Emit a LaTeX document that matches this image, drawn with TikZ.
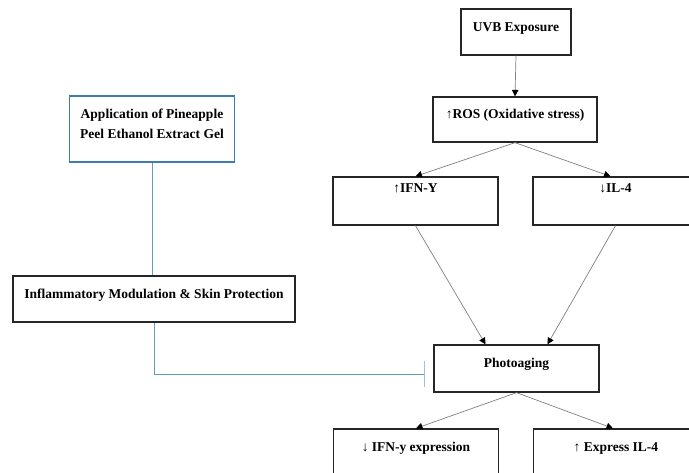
\documentclass[tikz,border=0pt]{standalone}
\usepackage{fontspec}
\setmainfont{Liberation Serif}
\usetikzlibrary{arrows.meta}
\definecolor{gelblue}{RGB}{61,127,168}
\definecolor{linkblue}{RGB}{100,154,188}
\begin{document}
\begin{tikzpicture}[x=1pt,y=-1pt,
    font=\fontsize{13.5}{20}\selectfont\bfseries,
    box/.style={draw=black!85,line width=1.3pt,minimum width=165pt,minimum height=46pt,
                inner sep=0pt,text height=9pt,text depth=10pt,align=center},
    tallbox/.style={box,text depth=26pt,minimum height=48pt},
    flow/.style={draw=black!50,line width=0.7pt,-{Triangle[length=6.5pt,width=6.5pt,color=black]}},
    inhibit/.style={draw=linkblue,line width=0.9pt,-{Bar[width=26pt,line width=1.4pt,color=linkblue!60]}}]
    \useasboundingbox (0,0) rectangle (689,473);
    \clip (0,0) rectangle (689,473);

    \node[box,minimum width=110pt] (uvb) at (516,32) {UVB Exposure};
    \node[box,minimum width=164pt,minimum height=45pt] (ros) at (515,119.5) {↑ROS (Oxidative stress)};
    \node[tallbox] (ifn) at (415.5,201) {↑IFN-Y};
    \node[tallbox] (il4) at (615.5,201) {↓IL-4};
    \node[box,minimum height=47pt] (photo) at (516.5,368.5) {Photoaging};
    \node[box] (ifnexp) at (416,452) {↓ IFN-y expression};
    \node[box] (expil4) at (616,452) {↑ Express IL-4};

    \node[box,draw=gelblue,minimum height=66pt,text height=29pt] (gel) at (152,129) {Application of Pineapple\\Peel Ethanol Extract Gel};
    \node[box,minimum width=282pt] (skin) at (154,299) {Inflammatory Modulation \& Skin Protection};

    \draw[flow] (uvb.south) -- (ros.north);
    \draw[flow] (ros.south) -- (ifn.north);
    \draw[flow] (ros.south) -- ([xshift=-5pt]il4.north);
    \draw[flow] (ifn.south) -- ([xshift=-31pt]photo.north);
    \draw[flow] (il4.south) -- ([xshift=31pt]photo.north);
    \draw[flow] (photo.south) -- (ifnexp.north);
    \draw[flow] (photo.south) -- ([xshift=-3pt]expil4.north);

    \draw[draw=linkblue,line width=0.9pt] (gel.south) -- (gel.south |- skin.north);
    \draw[inhibit] (skin.south) |- ([xshift=-8pt,yshift=-5.5pt]photo.west);
\end{tikzpicture}
\end{document}
